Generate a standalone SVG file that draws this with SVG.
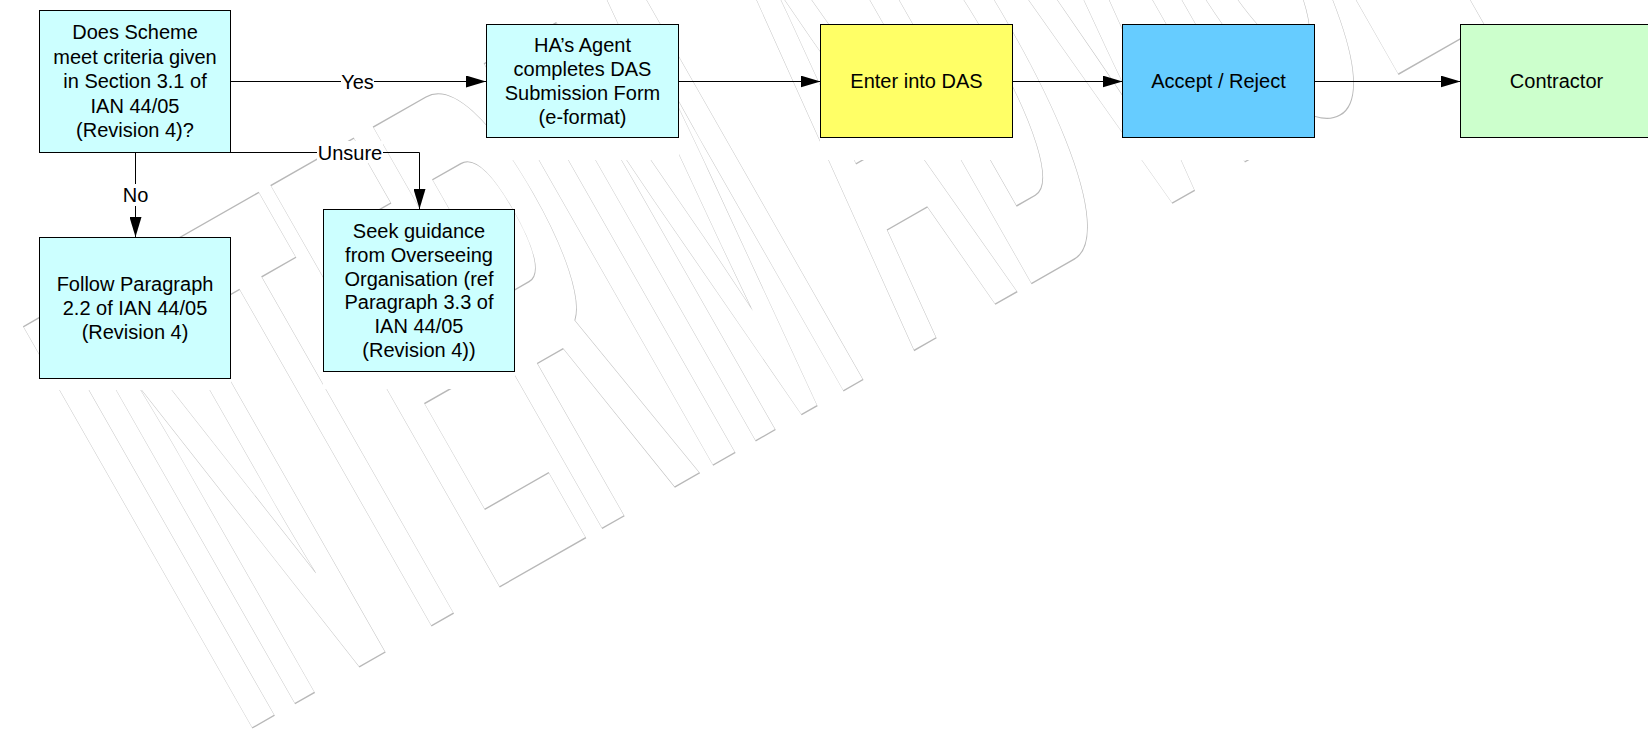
<svg xmlns="http://www.w3.org/2000/svg" width="1648" height="736" viewBox="0 0 1648 736">
<style>
.box{stroke:#000;stroke-width:1}
.t{font-family:"Liberation Sans",Arial,sans-serif;font-size:20px;fill:#000;text-anchor:middle}
.c{fill:none;stroke:#000;stroke-width:1}
.bg{fill:#fff}
.wm{font-family:"Liberation Sans",Arial,sans-serif;font-weight:bold;font-size:100px;fill:none;stroke:#b8b8b8;stroke-width:1;vector-effect:non-scaling-stroke}
</style>
<defs>
<marker id="ah" markerUnits="userSpaceOnUse" markerWidth="20" markerHeight="12" refX="20" refY="6" orient="auto"><path d="M0,0 L20,6 L0,12 z" fill="#000"/></marker>
</defs>
<rect width="1648" height="736" fill="#fff"/>
<text class="wm" transform="translate(242,733.8) rotate(-29.7) scale(1.768,6.715)">INTERIM ADVICE</text>
<g id="masks" class="bg">
<rect x="486" y="24" width="193" height="136"/>
<rect x="820" y="24" width="193" height="136"/>
<rect x="1122" y="24" width="193" height="136"/>
<rect x="1460" y="24" width="188" height="136"/>
<rect x="39" y="237" width="192" height="153"/>
<rect x="323" y="209" width="192" height="180"/>
</g>
<g id="connectors">
<path class="c" d="M230.5,81.5 H486" marker-end="url(#ah)"/>
<path class="c" d="M230.5,152.5 H419.5 V209" marker-end="url(#ah)"/>
<path class="c" d="M135.5,152.5 V237" marker-end="url(#ah)"/>
<path class="c" d="M678.5,81.5 H820.5" marker-end="url(#ah)"/>
<path class="c" d="M1012.5,81.5 H1122.5" marker-end="url(#ah)"/>
<path class="c" d="M1314.5,81.5 H1460.5" marker-end="url(#ah)"/>
<rect class="bg" x="341" y="70" width="33" height="22"/>
<text class="t" x="357.5" y="88.5">Yes</text>
<rect class="bg" x="317" y="141" width="66" height="22"/>
<text class="t" x="350" y="159.5">Unsure</text>
<rect class="bg" x="122" y="184" width="27" height="22"/>
<text class="t" x="135.5" y="202">No</text>
</g>
<g id="n1">
<rect class="box" x="39.5" y="10.5" width="191" height="142" fill="#ccffff"/>
<text class="t"><tspan x="135" y="39">Does Scheme</tspan><tspan x="135" y="63.5">meet criteria given</tspan><tspan x="135" y="88">in Section 3.1 of</tspan><tspan x="135" y="112.5">IAN 44/05</tspan><tspan x="135" y="137">(Revision 4)?</tspan></text>
</g>
<g id="n2">
<rect class="box" x="486.5" y="24.5" width="192" height="113" fill="#ccffff"/>
<text class="t"><tspan x="582.5" y="52">HA’s Agent</tspan><tspan x="582.5" y="76">completes DAS</tspan><tspan x="582.5" y="100">Submission Form</tspan><tspan x="582.5" y="124">(e-format)</tspan></text>
</g>
<g id="n3">
<rect class="box" x="820.5" y="24.5" width="192" height="113" fill="#ffff66"/>
<text class="t" x="916.5" y="88">Enter into DAS</text>
</g>
<g id="n4">
<rect class="box" x="1122.5" y="24.5" width="192" height="113" fill="#66ccff"/>
<text class="t" x="1218.5" y="88">Accept / Reject</text>
</g>
<g id="n5">
<rect class="box" x="1460.5" y="24.5" width="192" height="113" fill="#ccffcc"/>
<text class="t" x="1556.5" y="88">Contractor</text>
</g>
<g id="n6">
<rect class="box" x="39.5" y="237.5" width="191" height="141" fill="#ccffff"/>
<text class="t"><tspan x="135" y="290.5">Follow Paragraph</tspan><tspan x="135" y="314.7">2.2 of IAN 44/05</tspan><tspan x="135" y="338.9">(Revision 4)</tspan></text>
</g>
<g id="n7">
<rect class="box" x="323.5" y="209.5" width="191" height="162" fill="#ccffff"/>
<text class="t"><tspan x="419" y="238">Seek guidance</tspan><tspan x="419" y="261.8">from Overseeing</tspan><tspan x="419" y="285.6">Organisation (ref</tspan><tspan x="419" y="309.4">Paragraph 3.3 of</tspan><tspan x="419" y="333.2">IAN 44/05</tspan><tspan x="419" y="357">(Revision 4))</tspan></text>
</g>
</svg>
